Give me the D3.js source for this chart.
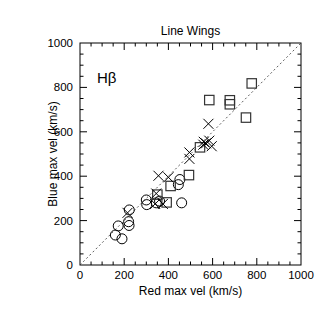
<!DOCTYPE html>
<html>
<head>
<meta charset="utf-8">
<script src="https://cdn.jsdelivr.net/npm/d3@7"></script>
<style>
  html, body { margin: 0; padding: 0; background: #fff; }
  svg { display: block; font-family: "Liberation Sans", Arial, Helvetica, sans-serif; }
</style>
</head>
<body>
<svg id="chart" width="327" height="327"></svg>
<script>
// ---- data (km/s) ----
const title = "Line Wings";
const xLabel = "Red max vel (km/s)";
const yLabel = "Blue max vel (km/s)";
const lineLabel = "Hβ";
const tickValues = [0, 200, 400, 600, 800, 1000];
const minorTickValues = d3.range(0, 1001, 50);

const circleRed  = [160, 190, 173, 220, 222, 223, 300, 302, 345, 360, 445, 452, 460];
const circleBlue = [135, 118, 176, 195, 178, 248, 293, 272, 280, 288, 362, 385, 280];

const squareRed  = [777, 585, 678, 678, 751, 543, 493, 410, 350, 392];
const squareBlue = [818, 743, 742, 724, 664, 530, 405, 356, 317, 282];

const crossRed  = [215, 340, 375, 345, 355, 400, 495, 495, 558, 560, 570, 585, 596, 581];
const crossBlue = [235, 275, 275, 322, 402, 395, 478, 507, 542, 555, 548, 560, 535, 636];

// ---- layout ----
const svg = d3.select("#chart");
const L = 80, R = 301, T = 43, B = 265;
const x = d3.scaleLinear().domain([0, 1000]).range([L, R]);
const y = d3.scaleLinear().domain([0, 1000]).range([B, T]);

const fontTick = "11.5px";
const fontLab = "12px";

// frame
svg.append("rect").attr("x", L).attr("y", T).attr("width", R - L).attr("height", B - T)
  .attr("fill", "none").attr("stroke", "#000").attr("stroke-width", 1);

// ticks (inward on all sides)
const majLen = 7, minLen = 3.5;
const tg = svg.append("g").attr("stroke", "#000").attr("stroke-width", 1);
minorTickValues.forEach(v => {
  const len = (v % 200 === 0) ? majLen : minLen;
  if (v === 0 || v === 1000) return;
  tg.append("line").attr("x1", x(v)).attr("x2", x(v)).attr("y1", B).attr("y2", B - len);
  tg.append("line").attr("x1", x(v)).attr("x2", x(v)).attr("y1", T).attr("y2", T + len);
  tg.append("line").attr("y1", y(v)).attr("y2", y(v)).attr("x1", L).attr("x2", L + len);
  tg.append("line").attr("y1", y(v)).attr("y2", y(v)).attr("x1", R).attr("x2", R - len);
});

// tick labels
tickValues.forEach(v => {
  svg.append("text").attr("x", x(v)).attr("y", 279).attr("text-anchor", "middle")
    .attr("font-size", fontTick).attr("fill", "#000").text(v);
  svg.append("text").attr("x", 73).attr("y", y(v)).attr("dy", "0.35em").attr("text-anchor", "end")
    .attr("font-size", fontTick).attr("fill", "#000").text(v);
});

// axis labels & title
svg.append("text").attr("x", (L + R) / 2).attr("y", 295).attr("text-anchor", "middle")
  .attr("font-size", fontLab).text(xLabel);
svg.append("text").attr("transform", `translate(57,${(T + B) / 2}) rotate(-90)`)
  .attr("text-anchor", "middle").attr("font-size", fontLab).text(yLabel);
svg.append("text").attr("x", (L + R) / 2).attr("y", 35).attr("text-anchor", "middle")
  .attr("font-size", fontLab).text(title);

// H-beta label
svg.append("text").attr("x", 97).attr("y", 83).attr("font-size", "15px").text(lineLabel);

// 1:1 dashed line
svg.append("line").attr("x1", x(0)).attr("y1", y(0)).attr("x2", x(1000)).attr("y2", y(1000))
  .attr("stroke", "#333").attr("stroke-width", 0.8).attr("stroke-dasharray", "2,2.5");

// circles
const circles = circleRed.map((r, i) => ({ r, b: circleBlue[i] }));
svg.append("g").selectAll("circle").data(circles).join("circle")
  .attr("cx", d => x(d.r)).attr("cy", d => y(d.b)).attr("r", 5)
  .attr("fill", "none").attr("stroke", "#000").attr("stroke-width", 1);

// squares
const squares = squareRed.map((r, i) => ({ r, b: squareBlue[i] }));
const s = 4.7;
svg.append("g").selectAll("rect").data(squares).join("rect")
  .attr("x", d => x(d.r) - s).attr("y", d => y(d.b) - s).attr("width", 2 * s).attr("height", 2 * s)
  .attr("fill", "none").attr("stroke", "#333").attr("stroke-width", 1.2);

// crosses
const crosses = crossRed.map((r, i) => ({ r, b: crossBlue[i] }));
const c = 5;
svg.append("g").selectAll("path").data(crosses).join("path")
  .attr("d", d => {
    const cx = x(d.r), cy = y(d.b);
    return `M${cx - c},${cy - c}L${cx + c},${cy + c}M${cx - c},${cy + c}L${cx + c},${cy - c}`;
  })
  .attr("fill", "none").attr("stroke", "#000").attr("stroke-width", 1);
</script>
</body>
</html>
